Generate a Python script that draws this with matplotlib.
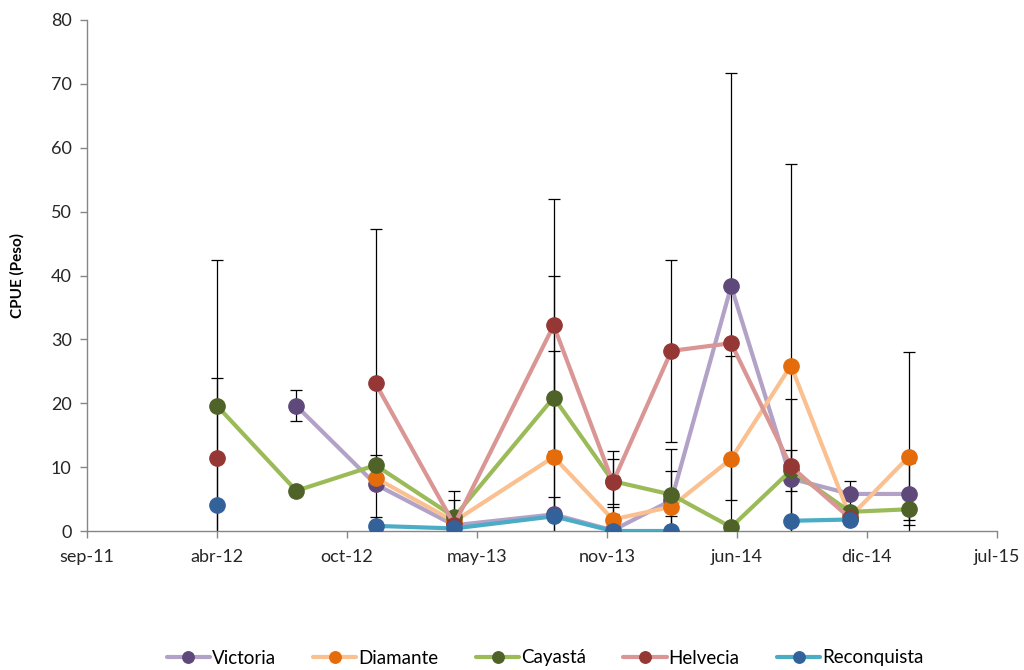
import numpy as np
import matplotlib
matplotlib.use("Agg")
import matplotlib.pyplot as plt
import matplotlib.dates as mdates

plt.rcParams['font.family'] = ['Lato', 'DejaVu Sans']

# Sampling dates
dates = np.array(['2012-04-01', '2012-08-01', '2012-12-01', '2013-04-01', '2013-09-01',
                  '2013-12-01', '2014-03-01', '2014-06-01', '2014-09-01', '2014-12-01',
                  '2015-03-01'], dtype='datetime64[D]')

nan = np.nan
# CPUE (weight) per site
victoria    = [nan, 19.6, 7.3, 0.9, 2.6, 0.1, 4.8, 38.3, 8.2, 5.8, 5.8]
diamante    = [nan, nan, 8.3, 1.5, 11.6, 1.8, 3.8, 11.3, 25.9, 2.2, 11.6]
cayasta     = [19.6, 6.3, 10.3, 2.2, 20.9, 7.8, 5.7, 0.6, 9.5, 3.0, 3.4]
helvecia    = [11.4, nan, 23.1, 1.0, 32.2, 7.6, 28.2, 29.4, 10.1, 2.0, nan]
reconquista = [4.1, nan, 0.8, 0.4, 2.3, 0.0, 0.0, nan, 1.6, 1.8, nan]

# Standard deviations (nan = no error bar)
victoria_sd    = [nan, 2.4, nan, nan, nan, nan, 4.6, 33.4, nan, 2.1, 4.8]
diamante_sd    = [nan, nan, nan, 3.4, 16.6, 2.0, 1.5, 16.1, 31.6, nan, 16.4]
cayasta_sd     = [nan, nan, 1.6, 4.1, 19.1, 3.5, 7.1, nan, 3.2, nan, 1.7]
helvecia_sd    = [31.1, nan, 24.2, nan, 19.7, 4.9, 14.2, nan, 10.6, nan, nan]
reconquista_sd = [19.9, nan, 1.4, nan, 3.1, nan, nan, nan, nan, nan, nan]

series_names = ['Victoria', 'Diamante', 'Cayastá', 'Helvecia', 'Reconquista']
series_values = [victoria, diamante, cayasta, helvecia, reconquista]
series_sd = [victoria_sd, diamante_sd, cayasta_sd, helvecia_sd, reconquista_sd]
line_colors = ['#B3A2C7', '#FAC090', '#9BBB59', '#D99694', '#4BACC6']
marker_colors = ['#5F497A', '#E46C0A', '#4F6228', '#953735', '#33629A']

# Axis range and tick labels (ticks every 200 days)
x_start = np.datetime64('2011-09-14')
x_step_days = 200
tick_labels = ['sep-11', 'abr-12', 'oct-12', 'may-13', 'nov-13', 'jun-14', 'dic-14', 'jul-15']
y_max = 80
y_step = 10

fig = plt.figure(figsize=(10.24, 6.7), dpi=100)
ax = fig.add_axes([87 / 1024, 1 - 531 / 670, (997 - 87) / 1024, (531 - 20) / 670])

x = mdates.date2num(dates.astype('datetime64[s]').astype(object))

for i, (name, vals, sd, lc, mc) in enumerate(zip(series_names, series_values, series_sd,
                                                line_colors, marker_colors)):
    vals = np.array(vals, dtype=float)
    sd = np.array(sd, dtype=float)
    has_err = ~np.isnan(sd)
    ax.errorbar(x[has_err], vals[has_err], yerr=sd[has_err], fmt='none',
                ecolor='black', elinewidth=0.9, capsize=4.5, capthick=0.9,
                zorder=2 + i * 0.1)
    ax.plot(x, vals, color=lc, linewidth=3.0, solid_capstyle='round',
            marker='o', markersize=11, markerfacecolor=mc, markeredgecolor=mc,
            label=name, zorder=3 + i * 0.1)

tick_dates = [x_start + np.timedelta64(x_step_days * k, 'D') for k in range(len(tick_labels))]
tick_nums = mdates.date2num([d.astype('datetime64[s]').astype(object) for d in tick_dates])
ax.set_xlim(tick_nums[0], tick_nums[-1])
ax.set_xticks(tick_nums)
ax.set_xticklabels(tick_labels)
ax.set_ylim(0, y_max)
ax.set_yticks(np.arange(0, y_max + 1, y_step))

for side in ['top', 'right']:
    ax.spines[side].set_visible(False)
for side in ['left', 'bottom']:
    ax.spines[side].set_color('#868686')
    ax.spines[side].set_linewidth(1.0)
ax.tick_params(axis='both', colors='#868686', length=5, width=1, direction='out',
               labelcolor='#262626', labelsize=13)
ax.tick_params(axis='x', pad=8)
ax.tick_params(axis='y', pad=6)

ax.set_ylabel('CPUE (Peso)', fontsize=11, fontweight='bold', color='black', labelpad=19)

leg = fig.legend(*ax.get_legend_handles_labels(), loc='center', bbox_to_anchor=(545 / 1024, 1 - 658 / 670),
                 ncol=5, frameon=False, fontsize=13.5, handlelength=2.3, handletextpad=0.1,
                 columnspacing=2.0, markerscale=0.75)

fig.savefig('out.png', dpi=100)
